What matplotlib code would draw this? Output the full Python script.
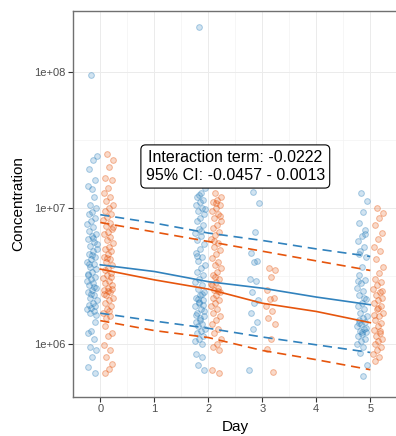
import matplotlib
matplotlib.use('Agg')
import matplotlib.pyplot as plt
import matplotlib.ticker as mticker
import numpy as np

plt.rcParams['font.family'] = ['Liberation Sans', 'DejaVu Sans']

BLUE = '#3182bd'
ORANGE = '#e6550d'

# concentrations in millions, one list per group and sampling day
blue_day0 = [95, 24, 22.5, 19.5, 16, 13.8, 14.5, 12, 10.5, 10, 9.3,
             9.0, 8.5, 8.0, 7.6, 7.2, 6.8, 6.5, 6.2, 5.9, 5.6, 5.3, 5.0, 4.8,
             4.6, 4.4, 4.2, 4.0, 3.85, 3.7, 3.55, 3.4, 3.25, 3.1, 3.0, 2.9,
             2.8, 2.7, 2.6, 2.5, 2.4, 2.3, 2.2, 2.1, 2.0, 1.95, 1.9, 1.85,
             1.8, 1.75, 1.7, 1.65, 4.5, 3.3, 2.65, 2.35, 5.4, 6.0, 3.9,
             1.45, 1.25, 1.2, 1.1, 0.95, 0.9, 0.8, 0.68, 0.62]
orange_day0 = [25, 22.5, 20, 16.5, 16, 14, 13, 12, 11.2,
               10.5, 10, 9.5, 9, 8.6, 8.2, 7.8, 7.4, 7.0, 6.7, 6.4, 6.1, 5.8,
               5.5, 5.2, 5.0, 4.8, 4.6, 4.4, 4.2, 4.0, 3.8, 3.65, 3.5, 3.35,
               3.2, 3.05, 2.9, 2.8, 2.7, 2.6, 2.5, 2.4, 2.3, 2.2, 2.1, 2.0,
               1.9, 1.8, 1.7, 1.6, 1.55, 2.55, 2.45, 2.35, 3.1, 4.3, 7.2, 1.75,
               1.35, 1.2, 1.15, 0.98, 0.9, 0.8, 0.72, 0.66, 0.62]
blue_day2 = [213, 14, 13, 12, 11.5, 11, 10.5, 10, 9.5, 9, 8.5, 8, 7.5, 7,
             6.6, 6.2, 5.8, 5.4, 5.0, 4.7, 4.4, 4.1, 3.8, 3.6, 3.4, 3.2, 3.0,
             2.85, 2.7, 2.55, 2.4, 2.3, 2.2, 2.1, 2.0, 1.9, 1.8, 1.7, 1.6,
             1.5, 1.45, 1.4, 1.35, 1.3, 1.25, 1.2, 1.15, 1.1, 1.05, 1.0, 2.15,
             1.75, 1.55, 1.65, 2.35, 12.5, 9.8, 6.8, 4.45, 1.95, 2.05,
             0.85, 0.8, 0.7, 0.65]
orange_day2 = [13, 12, 11.5, 11, 10.5, 10, 9.5, 9, 8.5, 8, 7.5, 7.1, 6.7,
               6.3, 5.9, 5.5, 5.2, 4.9, 4.6, 4.3, 4.0, 3.8, 3.6, 3.4, 3.2,
               3.0, 2.85, 2.7, 2.6, 2.5, 2.4, 2.3, 2.2, 2.1, 2.0, 1.9, 1.8,
               1.7, 1.6, 1.5, 1.4, 1.3, 1.2, 1.1, 1.0, 0.95, 0.9, 3.1, 2.75,
               2.45, 5.7, 8.8, 10.8, 0.65, 0.62]
blue_day3 = [13.2, 10.8, 6.7, 4.7, 4.1, 4.0, 3.0, 2.9, 2.4, 2.1, 2.0, 1.7,
             1.45, 1.3, 0.65]
orange_day3 = [3.6, 3.5, 3.1, 2.5, 2.2, 2.15, 1.9, 1.75, 1.55, 1.4, 1.1,
               0.93, 0.63]
blue_day5 = [12.9, 11.2, 9.4, 7.8, 6.9, 6.2, 5.7, 5.2, 4.8, 4.4, 3.7, 3.2,
             2.95, 2.8, 2.6, 2.45, 2.3, 2.15, 2.0, 1.9, 1.8, 1.7, 1.62, 1.55,
             1.5, 1.45, 1.4, 1.35, 1.3, 1.26, 1.22, 1.18, 1.14, 1.1, 1.05,
             1.0, 0.96, 1.42, 1.32, 1.24, 2.9, 2.2, 0.86, 0.7, 0.58, 4.6, 6.5]
orange_day5 = [10.0, 9.2, 8.4, 7.5, 6.6, 5.9, 5.2, 4.8, 4.2, 3.7, 3.35, 3.0,
               2.85, 2.7, 2.55, 2.4, 2.3, 2.2, 2.1, 2.0, 1.9, 1.8, 1.7, 1.6,
               1.5, 1.42, 1.35, 1.28, 1.2, 1.15, 1.1, 1.05, 1.0, 0.95, 0.9,
               0.85, 0.8, 0.75, 2.45, 1.85, 1.65, 1.25]

days = [0, 2, 3, 5]
blue_points = [blue_day0, blue_day2, blue_day3, blue_day5]
orange_points = [orange_day0, orange_day2, orange_day3, orange_day5]

# fitted mean and 95% band (millions)
fit_days = [0, 1, 2, 3, 4, 5]
blue_fit = [3.83, 3.42, 2.88, 2.58, 2.22, 1.95]
blue_upper = [8.93, 7.76, 6.55, 5.78, 5.01, 4.41]
blue_lower = [1.69, 1.48, 1.31, 1.13, 0.99, 0.87]
orange_fit = [3.56, 2.97, 2.54, 2.00, 1.74, 1.44]
orange_upper = [7.83, 6.67, 5.68, 4.82, 4.09, 3.48]
orange_lower = [1.49, 1.26, 1.12, 0.90, 0.77, 0.65]

interaction_text = 'Interaction term: -0.0222\n95% CI: -0.0457 - 0.0013'

fig = plt.figure(figsize=(3.96, 4.36), dpi=100)
ax = fig.add_axes([0.1851, 0.0901, 0.8182, 0.8853])


def jitter(n, width=0.095):
    # spread points sideways without overlap order
    k = np.arange(n)
    return ((k * 0.618034 + 0.37) % 1.0 - 0.5) * 2 * width


for day, vals in zip(days, blue_points):
    v = np.array(vals) * 1e6
    ax.scatter(day - 0.155 + jitter(len(v)), v, s=17,
               facecolor=(0.19, 0.51, 0.74, 0.22),
               edgecolor=(0.19, 0.51, 0.74, 0.4), linewidth=0.7, zorder=2)
for day, vals in zip(days, orange_points):
    v = np.array(vals) * 1e6
    ax.scatter(day + 0.145 + jitter(len(v)), v, s=17,
               facecolor=(0.90, 0.33, 0.05, 0.22),
               edgecolor=(0.90, 0.33, 0.05, 0.4), linewidth=0.7, zorder=2)

fd = np.array(fit_days)
ax.plot(fd, np.array(blue_fit) * 1e6, color=BLUE, lw=1.2, zorder=3)
ax.plot(fd, np.array(orange_fit) * 1e6, color=ORANGE, lw=1.2, zorder=3)
for band, col in [(blue_upper, BLUE), (blue_lower, BLUE),
                  (orange_upper, ORANGE), (orange_lower, ORANGE)]:
    ax.plot(fd, np.array(band) * 1e6, color=col, lw=1.2,
            dashes=(5.5, 3.5), zorder=3)

ax.text(2.5, 10 ** 7.305, interaction_text, ha='center', va='center',
        fontsize=11.5, linespacing=1.3, zorder=4,
        bbox=dict(boxstyle='round,pad=0.3', fc='white', ec='black', lw=0.8))

ax.set_yscale('log')
ax.set_xlim(-0.5, 5.5)
ax.set_ylim(10 ** 5.6147, 10 ** 8.4485)
ax.set_xticks([0, 1, 2, 3, 4, 5])
ax.set_xticks([-0.5, 0.5, 1.5, 2.5, 3.5, 4.5, 5.5], minor=True)
ax.yaxis.set_major_locator(mticker.FixedLocator([1e6, 1e7, 1e8]))
ax.yaxis.set_major_formatter(mticker.FixedFormatter(['1e+06', '1e+07', '1e+08']))
ax.yaxis.set_minor_locator(mticker.FixedLocator([10 ** 6.5, 10 ** 7.5]))
ax.yaxis.set_minor_formatter(mticker.NullFormatter())

ax.grid(which='major', color='#ebebeb', lw=0.7)
ax.grid(which='minor', color='#f2f2f2', lw=0.45)
ax.set_axisbelow(True)
ax.tick_params(which='minor', length=0)
ax.tick_params(which='major', length=3.6, width=0.8, color='#333333',
               labelcolor='#4d4d4d', labelsize=8, pad=2.0)
for sp in ax.spines.values():
    sp.set_color('#707070')
    sp.set_linewidth(1.0)

ax.set_xlabel('Day', fontsize=11, va='center')
ax.set_ylabel('Concentration', fontsize=11, va='center')
ax.xaxis.set_label_coords(0.5, -0.0777)
ax.yaxis.set_label_coords(-0.1707, 0.5)

fig.savefig('out.png', dpi=100)
